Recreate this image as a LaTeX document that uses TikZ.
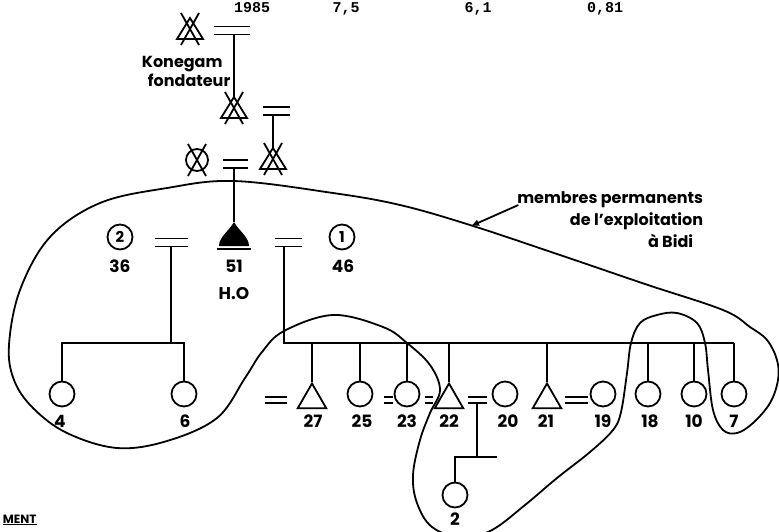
\documentclass[tikz,border=0pt]{standalone}
\usepackage{fontspec}
\setsansfont{Poppins}
\setmonofont{Liberation Mono}
\usetikzlibrary{arrows.meta,shapes.geometric}
\begin{document}
\begin{tikzpicture}[x=1pt,y=-1pt,line width=1.8pt,
  ind/.style={circle,draw,minimum size=25pt,inner sep=0pt},
  male/.style={regular polygon,regular polygon sides=3,draw,minimum size=33pt,inner sep=0pt},
  num/.style={font=\sffamily\bfseries\fontsize{17}{20}\selectfont,inner sep=0pt},
  circnum/.style={circle,draw,minimum size=25pt,inner sep=0pt,font=\sffamily\bfseries\fontsize{15}{16}\selectfont},
  hdr/.style={font=\ttfamily\bfseries\fontsize{15}{18}\selectfont,inner sep=0pt,anchor=base},
  xtri/.pic={\draw (0,-11) -- (13,10) -- (-13,10) -- cycle;
             \draw (-9,-16) -- (9,16) (9,-16) -- (-9,16);
             \coordinate (-top) at (0,-11);},
  xcirc/.pic={\draw (0,0) circle (11pt);
              \draw (-9,-16) -- (9,16) (9,-16) -- (-9,16);},
  marr/.pic={\draw (-#1,-4) -- (#1,-4) (-#1,4) -- (#1,4);
             \coordinate (-bot) at (0,4);},
  smarr/.pic={\draw (-#1,-3) -- (#1,-3) (-#1,3) -- (#1,3);
              \coordinate (-bot) at (0,3);},
  egofill/.pic={\fill (0,0) .. controls (5,9) and (15,15) .. (15,24) -- (-15,24)
                 .. controls (-15,15) and (-5,9) .. (0,0);
                \draw[line width=2.2pt] (-17,27) -- (17,27);
                \coordinate (-top) at (0,0);}
]
\useasboundingbox (0,0) rectangle (779,531);
\clip (0,0) rectangle (779,531);

% header
\node[hdr] (h1) at (252,12) {1985};
\node[hdr] (h2) at (346,12) {7,5};
\node[hdr] (h3) at (478,12) {6,1};
\node[hdr] (h4) at (605,12) {0,81};

% ancestors
\pic (T1) at (190,29) {xtri};
\pic (M1) at (232,30.5) {marr=18};
\node[num,align=left,anchor=west,font=\sffamily\bfseries\fontsize{16}{19}\selectfont] (kon) at (141,71) {Konegam\\\hspace*{6pt}fondateur};
\pic (T2) at (234,108) {xtri};
\pic (M2) at (276.5,111) {marr=13.5};
\pic (T3) at (273,159) {xtri};
\pic (C1) at (197,160) {xcirc};
\pic (M3) at (235.5,164) {marr=12.5};
\draw (T2-top |- M1-bot) -- (T2-top);
\draw (T3-top |- M2-bot) -- (T3-top);

% ego and wives
\pic (HO) at (234,222) {egofill};
\draw (HO-top |- M3-bot) -- (HO-top);
\node[num] (n51) at (234,266) {51};
\node[num] (nHO) at (234,294) {H.O};
\node[circnum] (w2) at (120,237) {2};
\node[num] (n36) at (120,266) {36};
\node[circnum] (w1) at (342,237) {1};
\node[num] (n46) at (343,266) {46};
\pic (ML) at (171.5,242.5) {marr=16.5};
\pic (MR) at (288.5,242.5) {marr=13.5};

% children of wife 2
\node[ind] (c4) at (62,394) {};
\node[ind] (c6) at (184,394) {};
\node[num] (l4) at (60,421) {4};
\node[num] (l6) at (185,421) {6};
\coordinate (sibL) at (171,343);
\draw (sibL |- ML-bot) -- (sibL);
\draw (c4.north) -- (c4.north |- sibL) -- (c6.north |- sibL) -- (c6.north);

% children of wife 1
\node[male] (t27) at (312,400) {};
\node[ind] (c25) at (360,394) {};
\node[ind] (c23) at (407,394) {};
\node[male] (t22) at (449,400) {};
\node[ind] (c20) at (505,394) {};
\node[male] (t21) at (547,400) {};
\node[ind] (c19) at (603,394) {};
\node[ind] (c18) at (648,394) {};
\node[ind] (c10) at (694,394) {};
\node[ind] (c7) at (734,394) {};
\coordinate (sibR) at (284,343);
\draw (sibR |- MR-bot) -- (sibR) -- (c7.north |- sibR);
\foreach \n in {t27,c25,c23,t22,t21,c18,c10,c7}
  \draw (\n.north) -- (\n.north |- sibR);

\pic (m27) at (276,400) {smarr=11};
\pic (m25) at (388.5,400) {smarr=4.5};
\pic (m23) at (429,400) {smarr=4};
\pic (m22) at (477.5,400) {smarr=9.5};
\pic (m21) at (576.5,400) {smarr=11.5};

\node[num] (l27) at (313,421) {27};
\node[num] (l25) at (362,421) {25};
\node[num] (l23) at (407,421) {23};
\node[num] (l22) at (449,421) {22};
\node[num] (l20) at (508,421) {20};
\node[num] (l21) at (546,421) {21};
\node[num] (l19) at (603,421) {19};
\node[num] (l18) at (650,421) {18};
\node[num] (l10) at (694,421) {10};
\node[num] (l7) at (734,421) {7};

% grandchild
\node[ind] (c2) at (455,495) {};
\node[num] (l2) at (455,519) {2};
\coordinate (sib2) at (477,457);
\coordinate (sib2r) at (497,457);
\draw (sib2 |- m22-bot) -- (sib2);
\draw (c2.north) -- (c2.north |- sib2) -- (sib2r);

% enclosure
\draw plot[smooth cycle,tension=0.6] coordinates {
 (234,181) (167,188) (100,203) (50,237) (20,290) (9,345) (14,380) (33,408)
 (67,433) (117,448) (167,441) (217,418) (245,378) (262,352) (284,331)
 (333,315) (383,327) (407,343) (430,365) (440,390) (430,413) (420,440)
 (413,475) (417,503) (432,527) (462,538) (492,530) (525,505) (557,478)
 (590,452) (613,430) (621,412) (627,373) (631,343) (640,323) (657,315)
 (677,313) (697,323) (705,343) (708,370) (713,410) (723,430) (737,433)
 (753,423) (770,403) (778,380) (777,360) (767,340) (750,327) (723,310)
 (645,284) (560,255) (470,225) (400,205) (333,193)};

\coordinate (arr) at (471,226);
\node[num,align=right,anchor=north east,font=\sffamily\bfseries\fontsize{16}{22}\selectfont] (memb) at (704,191)
  {membres permanents\\de l'exploitation\\à Bidi\hspace*{10pt}};
\draw[-{Latex[length=8pt,width=7pt]},line width=1.8pt] (memb.north west) ++(2,14) -- (arr);

\node[font=\sffamily\bfseries\fontsize{12}{14}\selectfont,inner sep=0pt,anchor=south west] (ment) at (2,526) {\underline{MENT}};
\end{tikzpicture}
\end{document}
